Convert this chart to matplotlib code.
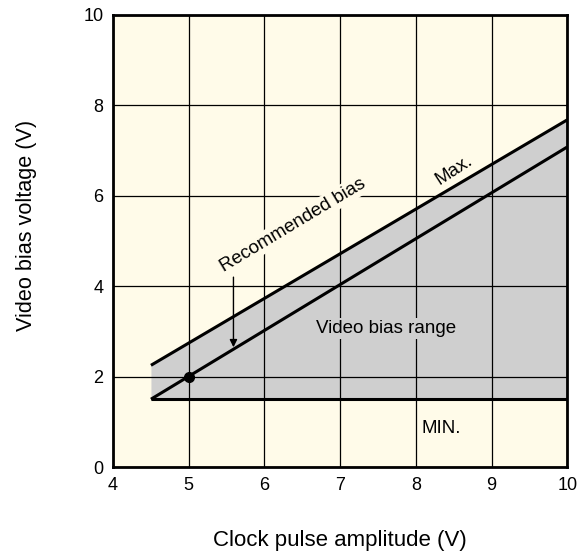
import matplotlib
matplotlib.use("Agg")
import matplotlib.pyplot as plt
import numpy as np

plt.rcParams['font.family'] = ['Liberation Sans', 'DejaVu Sans']

# Data
x_ends = [4.5, 10.0]
max_line = [2.25, 7.68]
rec_line = [1.5, 7.08]
min_line = [1.5, 1.5]
rec_point = (5.0, 2.0)
xticks = [4, 5, 6, 7, 8, 9, 10]
yticks = [0, 2, 4, 6, 8, 10]

bg = '#fffbe9'
gray = '#cfcfcf'

fig = plt.figure(figsize=(5.83, 5.54), dpi=100)
ax = fig.add_axes([0.194, 0.157, 0.779, 0.816])
ax.set_facecolor(bg)
ax.set_xlim(4, 10)
ax.set_ylim(0, 10)

ax.fill_between(x_ends, min_line, max_line, color=gray, zorder=1, lw=0)
ax.set_xticks(xticks)
ax.set_yticks(yticks)
ax.grid(True, color='black', lw=0.9, zorder=2)
ax.set_axisbelow(False)

ax.plot(x_ends, max_line, color='black', lw=2.2, zorder=3, solid_capstyle='butt')
ax.plot(x_ends, rec_line, color='black', lw=2.2, zorder=3, solid_capstyle='butt')
ax.plot(x_ends, min_line, color='black', lw=2.2, zorder=3, solid_capstyle='butt')
ax.plot([rec_point[0]], [rec_point[1]], 'o', color='black', ms=7, zorder=4)

ax.annotate('', xy=(5.59, 2.65), xytext=(5.59, 4.2),
            arrowprops=dict(arrowstyle='-|>', color='black', lw=1.0,
                            mutation_scale=11, shrinkA=0, shrinkB=0), zorder=4)

tb = dict(facecolor=bg, edgecolor='none', pad=1.5)
ax.text(6.37, 5.35, 'Recommended bias', rotation=31, ha='center', va='center',
        fontsize=13.5, bbox=tb, zorder=5, rotation_mode='anchor')
ax.text(8.5, 6.57, 'Max.', rotation=33, ha='center', va='center',
        fontsize=13.5, bbox=tb, zorder=5, rotation_mode='anchor')
ax.text(7.6, 3.07, 'Video bias range', ha='center', va='center',
        fontsize=13.5, bbox=dict(facecolor=gray, edgecolor='none', pad=1.5), zorder=5)
ax.text(8.33, 0.86, 'MIN.', ha='center', va='center',
        fontsize=13.5, bbox=tb, zorder=5)

for s in ax.spines.values():
    s.set_linewidth(2)
    s.set_zorder(6)
ax.tick_params(length=0, labelsize=13)
ax.tick_params(axis='x', pad=7)
ax.tick_params(axis='y', pad=7)
ax.set_xlabel('Clock pulse amplitude (V)', fontsize=16, labelpad=26)
ax.set_ylabel('Video bias voltage (V)', fontsize=15.6)
ax.yaxis.set_label_coords(-0.168, 0.535)

fig.savefig('out.png', dpi=100, facecolor='white')
